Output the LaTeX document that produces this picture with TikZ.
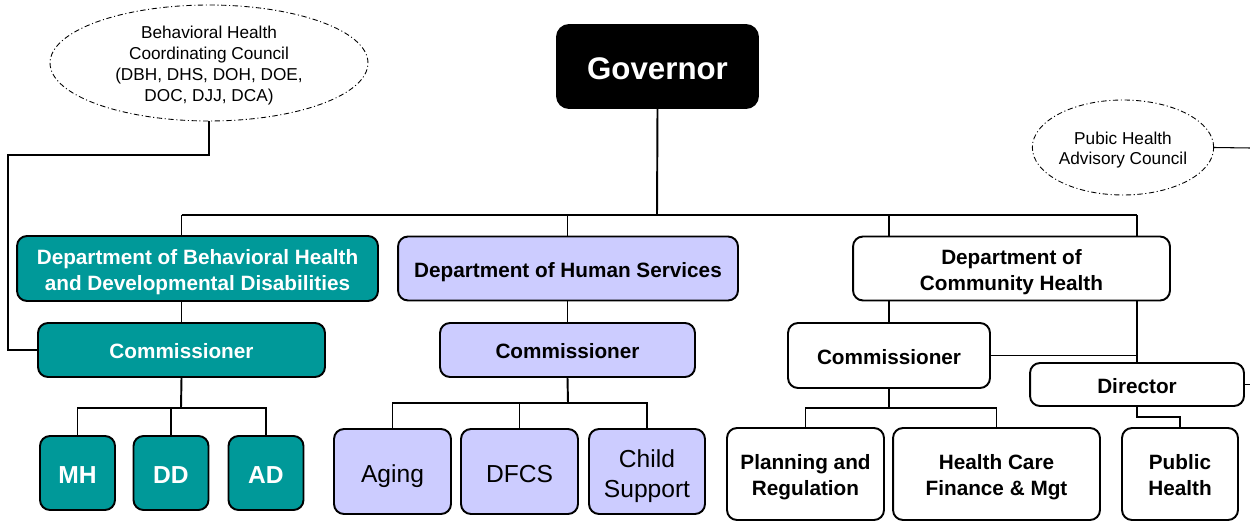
\documentclass[tikz,border=0pt]{standalone}
\usepackage{fontspec}
\setmainfont{Liberation Sans}
\usetikzlibrary{shapes.geometric,backgrounds}

\definecolor{bhteal}{HTML}{009999}
\definecolor{dhslav}{HTML}{CCCCFF}

\begin{document}
\begin{tikzpicture}[
    x=0.02cm, y=-0.02cm,
    box/.style={draw, line width=1.1pt, rounded corners=0.2cm, inner sep=0pt,
        align=center, font=\bfseries\fontsize{11.8}{14.8}\selectfont,
        text height=10.1pt, text depth=0pt},
    twoline/.style={text height=24.9pt, text depth=0pt},
    tealbox/.style={box, fill=bhteal, text=white},
    lavbox/.style={box, fill=dhslav},
    whitebox/.style={box, fill=white},
    unitbold/.style={font=\bfseries\fontsize{14}{17}\selectfont, text height=11.5pt},
    unitplain/.style={font=\mdseries\fontsize{14}{17}\selectfont, text height=12pt},
    council/.style={ellipse, draw, line width=0.5pt, inner sep=0pt, align=center,
        dash pattern=on 3pt off 1.5pt on 0.6pt off 1.5pt,
        font=\fontsize{9.8}{11.8}\selectfont, text depth=0pt},
    bus/.style={line width=1.1pt},
    link/.style={line width=0.6pt}
]
    \useasboundingbox (0,0) rectangle (1250,523);

    % top
    \node[box, fill=black, text=white, rounded corners=0.24cm,
        minimum width=4.02cm, minimum height=1.66cm, text height=15.3pt,
        font=\bfseries\fontsize{17.8}{20}\selectfont] (gov) at (657.5,66.5) {Governor};
    \node[council, minimum width=6.36cm, minimum height=2.32cm, text height=43.3pt] (bhcc) at (209,63)
        {Behavioral Health\\Coordinating Council\\(DBH, DHS, DOH, DOE,\\DOC, DJJ, DCA)};
    \node[council, minimum width=3.6cm, minimum height=1.9cm, text height=19.7pt] (phac) at (1123,147.5)
        {Pubic Health\\Advisory Council};

    % departments
    \node[tealbox, twoline, minimum width=7.22cm, minimum height=1.3cm] (dbhdd) at (197.5,268.5)
        {Department of Behavioral Health\\and Developmental Disabilities};
    \node[lavbox, minimum width=6.8cm, minimum height=1.28cm] (dhs) at (568,268.5)
        {Department of Human Services};
    \node[whitebox, twoline, minimum width=6.34cm, minimum height=1.28cm] (dch) at (1011.5,268.5)
        {Department of\\Community Health};

    % commissioners
    \node[tealbox, minimum width=5.74cm, minimum height=1.08cm] (comm1) at (181.5,350) {Commissioner};
    \node[lavbox, minimum width=5.1cm, minimum height=1.08cm] (comm2) at (567.5,350) {Commissioner};
    \node[whitebox, minimum width=4.04cm, minimum height=1.3cm] (comm3) at (889,355.5) {Commissioner};
    \node[whitebox, minimum width=4.28cm, minimum height=0.86cm] (dir) at (1137,384.5) {Director};

    % units
    \foreach \x/\name in {77.5/MH, 171/DD, 266/AD}
        \node[tealbox, unitbold, minimum width=1.5cm, minimum height=1.48cm]
            (\name) at (\x,473) {\name};
    \node[lavbox, unitplain, minimum width=2.34cm, minimum height=1.7cm] (aging) at (392.5,471.5) {Aging};
    \node[lavbox, unitplain, minimum width=2.34cm, minimum height=1.7cm] (dfcs) at (519.5,471.5) {DFCS};
    \node[lavbox, unitplain, text height=29.8pt,
        minimum width=2.32cm, minimum height=1.7cm] (child) at (647,471.5) {Child\\Support};
    \node[whitebox, twoline, minimum width=3.14cm, minimum height=1.84cm] (plan) at (805.5,474) {Planning and\\Regulation};
    \node[whitebox, twoline, minimum width=4.14cm, minimum height=1.84cm] (hcf) at (996.5,474) {Health Care\\Finance \& Mgt};
    \node[whitebox, twoline, minimum width=2.32cm, minimum height=1.84cm] (ph) at (1180,474) {Public\\Health};

    \coordinate (bus) at (657,215);
    \coordinate (bhk) at (8,155);
    \coordinate (edge) at (1250,148);
    \coordinate (t1) at (181,408);
    \coordinate (t2) at (568,403);
    \coordinate (t3) at (889,408);
    \coordinate (t4) at (1137,417);

    \begin{scope}[on background layer]
        % main lines
        \draw[bus] (gov.south) -- (bus);
        \draw[bus] (comm1.north |- bus) -- (dir.north |- bus);
        \foreach \n in {comm1, comm2, comm3, dir}
            \draw[bus] (\n.north |- bus) -- (\n.north);
        \draw[link] (comm3.east) -- (comm3.east -| dir.north);

        % councils
        \draw[link] (bhcc.south) |- (bhk) |- (comm1.west);
        \draw[link] (phac.east) -- (edge);
        \draw[link] (dir.east) -- (dir.east -| edge);

        % units
        \draw[bus] (comm1.south) -- (t1);
        \draw[link] (MH.north) |- (t1) -| (AD.north);
        \draw[link] (DD.north) -- (DD.north |- t1);
        \draw[bus] (comm2.south) -- (t2);
        \draw[link] (aging.north) |- (t2) -| (child.north);
        \draw[link] (dfcs.north) -- (dfcs.north |- t2);
        \draw[link] (comm3.south) -- (t3);
        \draw[link] (plan.north) |- (t3) -| (hcf.north);
        \draw[link] (dir.south) -- (t4) -| (ph.north);
    \end{scope}
\end{tikzpicture}
\end{document}
